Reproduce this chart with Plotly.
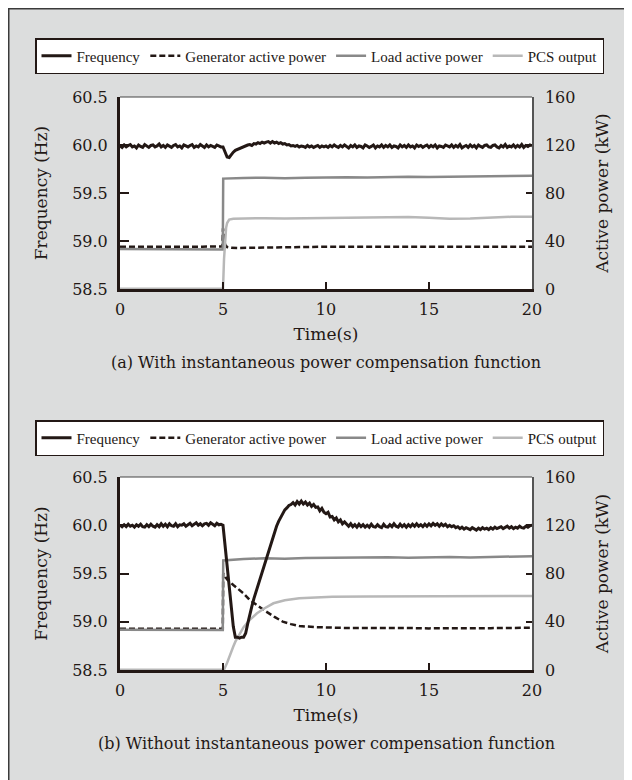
import plotly.graph_objects as go

# ---------------- data ----------------
STEP = 0.1  # sampling step of the frequency records (s)

# Panel (a): with instantaneous power compensation
FREQ_A_PRE = [59.99, 59.975, 60.0, 59.98, 59.995, 60.005, 59.98, 59.99, 59.97, 60.0,
              59.985, 59.975, 60.005, 59.99, 59.975, 59.995, 60.0, 59.98, 59.99, 60.01,
              59.98, 59.995, 59.975, 60.0, 59.985, 59.975, 59.995, 60.005, 59.98, 59.99,
              59.97, 60.0, 59.99, 59.98, 59.995, 60.005, 59.975, 59.99, 59.98, 60.005,
              59.99, 59.975, 60.0, 59.98, 59.995, 59.985, 59.975, 60.0, 59.99, 59.98]
FREQ_A_EVT = [59.98, 59.93, 59.875, 59.87, 59.9, 59.925, 59.945, 59.955, 59.965, 59.975,
              59.985, 59.99, 60.0, 60.005, 59.995, 60.015, 60.01, 60.025, 60.015, 60.03,
              60.02, 60.03, 60.035, 60.02, 60.035, 60.02, 60.03, 60.015, 60.025, 60.01,
              60.015, 60.0, 60.005, 59.99, 59.995, 59.985, 59.995, 59.98, 59.99, 59.985,
              59.975, 59.995, 59.98, 59.99, 59.975, 59.985, 59.995, 59.975, 59.99, 59.98]
FREQ_A_POST = [59.99, 59.975, 59.995, 59.98, 60.0, 59.985, 59.975, 59.995, 59.98, 60.0,
               59.985, 59.97, 59.995, 59.98, 60.0, 59.975, 59.99, 59.985, 59.97, 60.0,
               59.99, 59.975, 59.985, 60.0, 59.97, 59.99, 59.98, 60.0, 59.975, 59.995,
               59.98, 60.0, 59.975, 59.99, 59.985, 59.97, 60.0, 59.98, 59.995, 59.975,
               60.0, 59.98, 59.99, 59.97, 60.0, 59.985, 59.995, 59.975, 59.99, 60.0,
               59.975, 59.995, 59.98, 60.0, 59.97, 59.99, 59.985, 59.975, 60.0, 59.99,
               59.98, 60.0, 59.975, 59.995, 59.98, 60.005, 59.97, 59.985, 59.995, 59.975,
               60.0, 59.98, 59.995, 59.97, 60.0, 59.985, 59.975, 59.995, 60.0, 59.98,
               59.975, 59.995, 60.0, 59.98, 59.97, 59.995, 59.98, 60.005, 59.975, 59.99,
               59.98, 60.0, 59.975, 59.995, 59.98, 60.005, 59.975, 59.995, 59.985, 60.0,
               59.99]

T_GEN_A = [0, 1, 2, 3, 4, 4.97, 5.0, 5.05, 5.1, 5.2, 5.4, 5.7, 6, 6.5, 7, 8, 9, 10, 12, 14, 16, 18, 20]
GEN_A = [35.3, 35.2, 35.4, 35.3, 35.3, 35.5, 50.5, 44.0, 37.0, 35.0, 34.4, 34.2, 34.3, 34.5, 34.8,
         35.0, 35.2, 35.2, 35.3, 35.2, 35.3, 35.3, 35.3]
T_LOAD_A = [0, 1, 2, 3, 4, 4.99, 5.01, 5.5, 6, 7, 8, 9, 10, 11, 12, 13, 14, 15, 16, 17, 18, 19, 20]
LOAD_A = [33.4, 33.2, 33.3, 33.0, 33.1, 33.0, 92.0, 92.4, 92.6, 92.8, 92.3, 92.8, 93.1, 93.2,
          93.0, 93.4, 93.5, 93.3, 93.4, 93.8, 93.6, 94.1, 94.3]
T_PCS_A = [0, 4.99, 5.0, 5.05, 5.1, 5.15, 5.2, 5.3, 5.5, 6, 7, 8, 9, 10, 11, 12, 13, 14, 15, 16, 17, 18, 19, 20]
PCS_A = [0.3, 0.3, 0.3, 25.0, 42.0, 51.0, 55.0, 57.8, 58.6, 58.8, 59.0, 58.7, 59.0, 59.3, 59.5,
         59.6, 59.8, 59.9, 59.4, 58.6, 58.8, 59.8, 60.2, 60.3]

# Panel (b): without instantaneous power compensation
FREQ_B_PRE = [60.0, 59.985, 60.005, 59.985, 60.01, 59.99, 60.0, 59.98, 60.005, 59.99,
              60.01, 59.985, 59.98, 60.005, 59.985, 60.01, 59.99, 59.98, 60.005, 59.985,
              60.015, 59.99, 60.01, 59.985, 60.015, 59.995, 59.99, 60.015, 59.985, 60.005,
              60.0, 60.015, 59.99, 60.01, 60.02, 59.995, 60.015, 60.025, 60.0, 60.015,
              59.995, 60.015, 60.02, 60.0, 60.025, 60.005, 59.995, 60.02, 60.005, 60.01]
FREQ_B_EVT = [60.0, 59.79, 59.58, 59.37, 59.16, 58.95, 58.84, 58.84, 58.83, 58.84,
              58.84, 58.88, 58.98, 59.08, 59.16, 59.24, 59.31, 59.38, 59.45, 59.52,
              59.59, 59.66, 59.73, 59.8, 59.87, 59.93, 59.99, 60.04, 60.08, 60.12,
              60.16, 60.18, 60.205, 60.215, 60.235, 60.21, 60.245, 60.22, 60.25, 60.22,
              60.24, 60.21, 60.23, 60.195, 60.215, 60.185, 60.19, 60.15, 60.175, 60.135,
              60.12, 60.135, 60.085, 60.09, 60.055, 60.075, 60.035, 60.055, 60.015, 60.035,
              60.01, 59.99, 60.015, 59.985, 60.005, 59.98, 60.01, 59.985, 60.005, 59.98]
FREQ_B_POST = [60.0, 59.98, 60.01, 59.985, 59.98, 60.005, 59.985, 59.975, 60.01, 59.985,
               59.98, 60.005, 59.985, 60.015, 59.99, 59.98, 60.01, 59.985, 60.005, 59.98,
               60.005, 59.985, 60.01, 59.99, 60.015, 59.99, 60.005, 59.985, 60.01, 59.99,
               60.015, 59.995, 60.02, 60.0, 60.015, 59.99, 60.015, 59.995, 60.01, 59.985,
               60.0, 59.985, 59.995, 59.975, 59.985, 59.965, 59.98, 59.96, 59.975, 59.965,
               59.955, 59.975, 59.96, 59.95, 59.97, 59.955, 59.975, 59.96, 59.97, 59.955,
               59.975, 59.96, 59.98, 59.965, 59.975, 59.985, 59.965, 59.98, 59.99, 59.97,
               59.985, 59.965, 59.98, 59.97, 59.99, 59.975, 59.97, 59.99, 59.98, 59.995,
               60.0]

T_GEN_B = [0, 1, 2, 3, 4, 4.99, 5.01, 5.2, 5.5, 6.0, 6.3, 6.7, 7.1, 7.5, 7.9, 8.3, 8.7, 9.5,
           10.3, 11, 12, 13, 14, 15, 16, 17, 18, 19, 20]
GEN_B = [34.2, 34.1, 34.3, 34.2, 34.2, 34.2, 80.0, 75.0, 70.5, 63.5, 58.0, 53.0, 48.4, 44.0,
         40.1, 38.0, 36.5, 35.5, 35.0, 34.8, 34.9, 35.0, 34.8, 34.5, 34.4, 34.6, 34.7, 34.9, 35.0]
T_LOAD_B = [0, 1, 2, 3, 4, 4.99, 5.01, 5.5, 6, 7, 8, 9, 10, 11, 12, 13, 14, 15, 16, 17, 18, 19, 20]
LOAD_B = [33.3, 33.2, 33.1, 33.0, 33.2, 33.2, 90.8, 91.5, 92.0, 92.6, 92.3, 92.8, 93.0, 92.8,
          93.2, 93.4, 93.1, 93.5, 93.6, 93.3, 93.8, 94.2, 94.4]
T_PCS_B = [0, 5.05, 5.2, 5.3, 5.4, 5.5, 5.6, 5.8, 6.0, 6.3, 6.65, 7.0, 7.45, 8.0, 8.7, 9.5,
           10.3, 12, 13.6, 15, 17, 19.9, 20]
PCS_B = [0.3, 0.3, 6.0, 11.0, 16.0, 19.5, 23.5, 30.0, 35.5, 41.5, 47.0, 51.0, 55.3, 57.8, 59.4,
         60.2, 60.8, 61.0, 61.0, 61.2, 61.1, 61.4, 61.4]

X_TICKS = [0, 5, 10, 15, 20]
F_TICKS = [58.5, 59.0, 59.5, 60.0, 60.5]
P_TICKS = [0, 40, 80, 120, 160]

NAMES = ["Frequency", "Generator active power", "Load active power", "PCS output"]
CAPTIONS = ["(a) With instantaneous power compensation function",
            "(b) Without instantaneous power compensation function"]


def times(start, values):
    return [round(start + STEP * i, 3) for i in range(len(values))]


# ---------------- style / layout (page pixel positions -> paper fractions) ----------------
INK = "#231815"
BG = "#dcdddd"
SERIF = "DejaVu Serif"
W, H = 632, 780
OFF = 8  # page offset of the figure inside the browser window
PLOT_L, PLOT_R = 120, 532
A_TOP, A_BOT = 97, 289
B_TOP, B_BOT = 477, 670


def fx(pixel_x):
    return (pixel_x - OFF) / W


def fy(pixel_y):
    return 1 - (pixel_y - OFF) / H


fig = go.Figure()

panels = [
    dict(fr=[(0.0, FREQ_A_PRE), (5.0, FREQ_A_EVT), (10.0, FREQ_A_POST)],
         gen=(T_GEN_A, GEN_A), load=(T_LOAD_A, LOAD_A), pcs=(T_PCS_A, PCS_A),
         xa="x", yp="y", yf="y2", legend="legend"),
    dict(fr=[(0.0, FREQ_B_PRE), (5.0, FREQ_B_EVT), (12.0, FREQ_B_POST)],
         gen=(T_GEN_B, GEN_B), load=(T_LOAD_B, LOAD_B), pcs=(T_PCS_B, PCS_B),
         xa="x2", yp="y3", yf="y4", legend="legend2"),
]

for p in panels:
    ft, fv = [], []
    for start, vals in p["fr"]:
        ft += times(start, vals)
        fv += vals
    fig.add_trace(go.Scatter(x=ft, y=fv, name=NAMES[0], mode="lines",
                             line=dict(color=INK, width=3),
                             xaxis=p["xa"], yaxis=p["yf"], legend=p["legend"], legendrank=1))
    fig.add_trace(go.Scatter(x=p["gen"][0], y=p["gen"][1], name=NAMES[1], mode="lines",
                             line=dict(color=INK, width=2.5, dash="6px,3px"),
                             xaxis=p["xa"], yaxis=p["yp"], legend=p["legend"], legendrank=2))
    fig.add_trace(go.Scatter(x=p["load"][0], y=p["load"][1], name=NAMES[2], mode="lines",
                             line=dict(color="#898989", width=2.5),
                             xaxis=p["xa"], yaxis=p["yp"], legend=p["legend"], legendrank=3))
    fig.add_trace(go.Scatter(x=p["pcs"][0], y=p["pcs"][1], name=NAMES[3], mode="lines",
                             line=dict(color="#b8b8b8", width=2.5),
                             xaxis=p["xa"], yaxis=p["yp"], legend=p["legend"], legendrank=4))

tickfont = dict(family=SERIF, size=16, color=INK)
titlefont = dict(family=SERIF, size=17, color=INK)
XDOM = [fx(PLOT_L), fx(PLOT_R)]


def xaxis_cfg(anchor):
    return dict(range=[0, 20], tickvals=X_TICKS, ticks="inside", ticklen=7, tickwidth=1.5,
                tickcolor=INK, showline=True, linewidth=3, linecolor=INK, showgrid=False,
                zeroline=False, tickfont=tickfont, anchor=anchor, domain=XDOM,
                ticklabelstandoff=4,
                title=dict(text="Time(s)", font=titlefont, standoff=10))


def power_cfg(domain, anchor):
    return dict(range=[0, 160], tickvals=P_TICKS, side="right", ticks="inside", ticklen=6,
                tickwidth=1.5, tickcolor=INK, showline=True, linewidth=1.5, linecolor="#555555",
                showgrid=False, zeroline=False, tickfont=tickfont, domain=domain, anchor=anchor,
                ticklabelstandoff=8,
                title=dict(text="Active power (kW)", font=titlefont, standoff=22))


def freq_cfg(over, anchor):
    return dict(range=[58.5, 60.5], tickvals=F_TICKS, tickformat=".1f", side="left",
                overlaying=over, ticks="inside", ticklen=9, tickwidth=1.5, tickcolor=INK,
                showline=True, linewidth=3, linecolor=INK, showgrid=False, zeroline=False,
                tickfont=tickfont, anchor=anchor, ticklabelstandoff=6,
                title=dict(text="Frequency (Hz)", font=titlefont, standoff=21))


dom_a = [fy(A_BOT), fy(A_TOP)]
dom_b = [fy(B_BOT), fy(B_TOP)]

legend_common = dict(orientation="h", xref="paper", yref="paper", x=fx(35),
                     xanchor="left", yanchor="top", bgcolor="white", bordercolor=INK,
                     borderwidth=1.5, font=dict(family="Liberation Serif", size=15, color=INK),
                     itemwidth=30, tracegroupgap=0)

shapes = [
    dict(type="rect", xref="paper", yref="paper", x0=fx(8.75), x1=fx(660), y0=fy(800),
         y1=fy(8.75), fillcolor=BG, line=dict(color="#3a3a3a", width=1.5), layer="below"),
    dict(type="rect", xref="x domain", yref="y domain", x0=0, x1=1, y0=0, y1=1,
         fillcolor="white", line=dict(width=0), layer="below"),
    dict(type="rect", xref="x2 domain", yref="y3 domain", x0=0, x1=1, y0=0, y1=1,
         fillcolor="white", line=dict(width=0), layer="below"),
    dict(type="line", xref="x domain", yref="y domain", x0=0, x1=1, y0=1, y1=1,
         line=dict(color="#444444", width=1.2)),
    dict(type="line", xref="x2 domain", yref="y3 domain", x0=0, x1=1, y0=1, y1=1,
         line=dict(color="#444444", width=1.2)),
]

annotations = [
    dict(text=CAPTIONS[0], xref="paper", yref="paper", x=fx((PLOT_L + PLOT_R) / 2), y=fy(363),
         xanchor="center", yanchor="middle", showarrow=False,
         font=dict(family=SERIF, size=16, color=INK)),
    dict(text=CAPTIONS[1], xref="paper", yref="paper", x=fx((PLOT_L + PLOT_R) / 2), y=fy(743),
         xanchor="center", yanchor="middle", showarrow=False,
         font=dict(family=SERIF, size=16, color=INK)),
]

fig.update_layout(
    width=W, height=H,
    margin=dict(l=0, r=0, t=0, b=0, pad=0, autoexpand=False),
    paper_bgcolor="white", plot_bgcolor="rgba(0,0,0,0)",
    showlegend=True,
    xaxis=xaxis_cfg("y"),
    xaxis2=xaxis_cfg("y3"),
    yaxis=power_cfg(dom_a, "x"),
    yaxis2=freq_cfg("y", "x"),
    yaxis3=power_cfg(dom_b, "x2"),
    yaxis4=freq_cfg("y3", "x2"),
    legend=dict(legend_common, y=fy(38)),
    legend2=dict(legend_common, y=fy(420)),
    shapes=shapes,
    annotations=annotations,
)

fig.write_html("out.html")
